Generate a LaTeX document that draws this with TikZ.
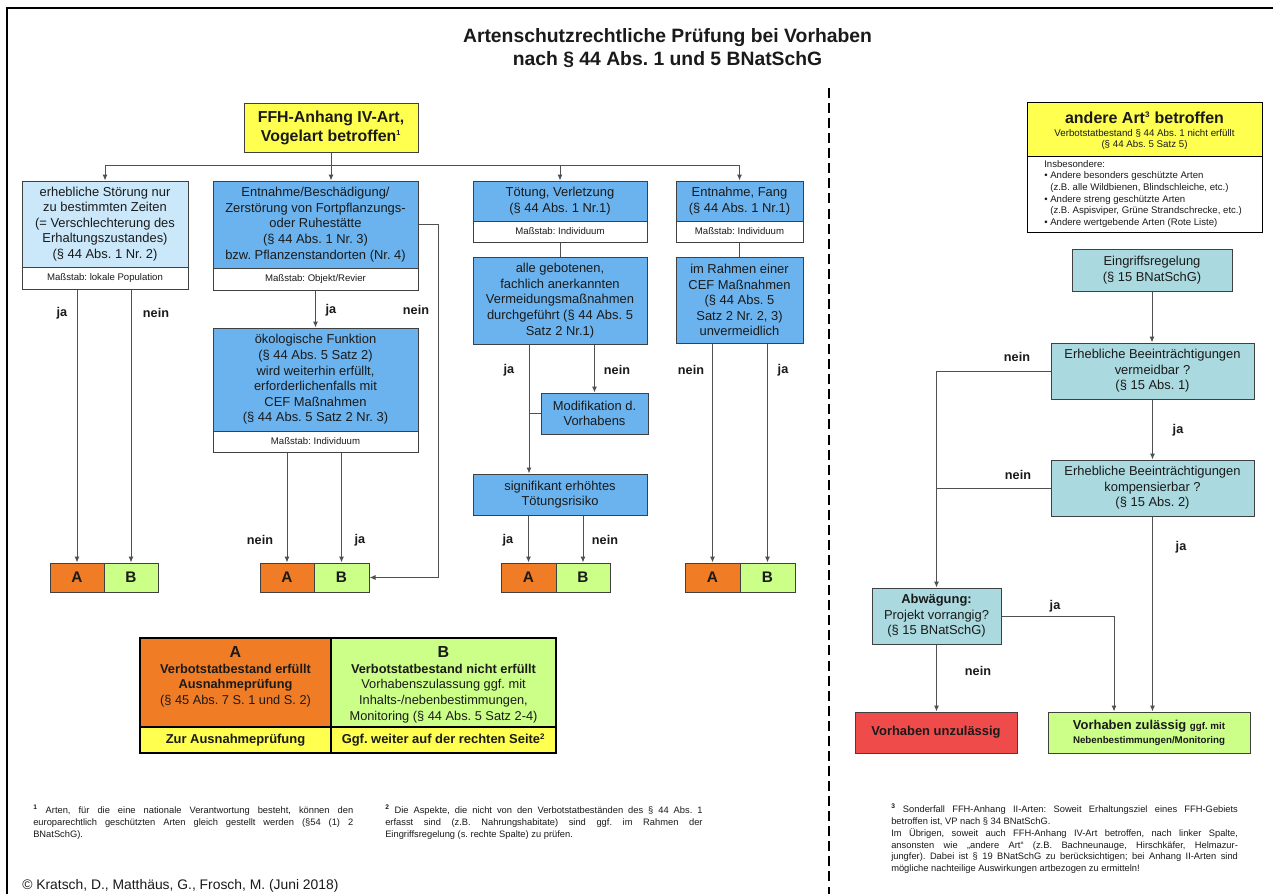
\documentclass[tikz,border=0pt]{standalone}
\usepackage{fontspec}
\setmainfont{Liberation Sans}
\usetikzlibrary{arrows.meta}
\definecolor{cYel}{HTML}{FFFF50}
\definecolor{cLblue}{HTML}{CBE8FB}
\definecolor{cBlue}{HTML}{6BB3EF}
\definecolor{cTeal}{HTML}{AAD9DF}
\definecolor{cOra}{HTML}{F07D26}
\definecolor{cGrn}{HTML}{CCFF88}
\definecolor{cRed}{HTML}{F04B4B}
\definecolor{cEdge}{HTML}{404040}
\definecolor{cLine}{HTML}{505050}
\definecolor{cTxt}{HTML}{1A1A1A}
\newcommand\fs[2]{\fontsize{#1}{#2}\selectfont}
\frenchspacing
\begin{document}
\begin{tikzpicture}[x=0.75pt,y=-0.75pt,
  rect/.style n args={4}{at={({(#1+#3)/2},{(#2+#4)/2})}, anchor=center,
     minimum width={(#3-#1)*0.75pt}, minimum height={(#4-#2)*0.75pt}},
  box/.style={draw=cEdge, line width=0.75pt, inner sep=0pt, align=center, text=cTxt},
  lbbox/.style={box, fill=cLblue, font=\fs{9.7}{11.7}},
  bbox/.style={box, fill=cBlue, font=\fs{9.7}{11.7}},
  tbox/.style={box, fill=cTeal, font=\fs{9.7}{11.7}},
  foot/.style={box, fill=white, font=\fs{7.2}{8.6}},
  ybox/.style={box, fill=cYel},
  abox/.style={box, fill=cOra, font=\bfseries\fs{11.5}{13}},
  gbox/.style={box, fill=cGrn, font=\bfseries\fs{11.5}{13}},
  lgbox/.style={draw=black, line width=1.1pt, inner sep=0pt, align=center, text=cTxt},
  lbl/.style={font=\bfseries\fs{9.5}{11}, inner sep=0pt, text=cTxt},
  txt/.style={inner sep=0pt, text=cTxt},
  conn/.style={draw=cLine, line width=0.75pt},
  arr/.style={conn, -{Latex[length=4.5pt,width=3.8pt]}}
]
\fill[white] (0,0) rectangle (1273,894);
\useasboundingbox (0,0) rectangle (1273,894);
% frame and separator
\draw[line width=1.5pt] (7,894) -- (7,8) -- (1273,8);
\draw[line width=2.2pt, dash pattern=on 7.5pt off 3.8pt] (829,88) -- (829,894);
% title
\node[txt, font=\bfseries\fs{14.5}{17.3}, align=center] (title) at (667.5,48.5)
  {Artenschutzrechtliche Prüfung bei Vorhaben\\nach § 44 Abs. 1 und 5 BNatSchG};
% ---------------- left column ----------------
\node[ybox, font=\bfseries\fs{11.9}{14.3}, rect={244}{103}{418}{152}] (ffh)
  {FFH-Anhang IV-Art,\\Vogelart betroffen\textsuperscript{\fs{5.5}{6}1}};
\node[lbbox, rect={22}{181}{188}{267}] (b1)
  {erhebliche Störung nur\\zu bestimmten Zeiten\\(= Verschlechterung des\\Erhaltungszustandes)\\(§ 44 Abs. 1 Nr. 2)};
\node[foot, rect={22}{267}{188}{289}] (b1f) {Maßstab: lokale Population};
\node[bbox, rect={213}{181}{418}{268}] (b2)
  {Entnahme/Beschädigung/\\Zerstörung von Fortpflanzungs-\\oder Ruhestätte\\(§ 44 Abs. 1 Nr. 3)\\bzw. Pflanzenstandorten (Nr. 4)};
\node[foot, rect={213}{268}{418}{290}] (b2f) {Maßstab: Objekt/Revier};
\node[bbox, rect={473}{181}{647}{221}] (b3) {Tötung, Verletzung\\(§ 44 Abs. 1 Nr.1)};
\node[foot, rect={473}{221}{647}{242}] (b3f) {Maßstab: Individuum};
\node[bbox, rect={676}{181}{803}{221}] (b4) {Entnahme, Fang\\(§ 44 Abs. 1 Nr.1)};
\node[foot, rect={676}{221}{803}{242}] (b4f) {Maßstab: Individuum};
\node[bbox, rect={473}{257}{647}{344}] (b3b)
  {alle gebotenen,\\fachlich anerkannten\\Vermeidungsmaßnahmen\\durchgeführt (§ 44 Abs. 5\\Satz 2 Nr.1)};
\node[bbox, rect={676}{257}{803}{343}] (b4b)
  {im Rahmen einer\\CEF Maßnahmen\\(§ 44 Abs. 5\\Satz 2 Nr. 2, 3)\\unvermeidlich};
\node[bbox, rect={213}{328}{418}{431}] (b2b)
  {ökologische Funktion\\(§ 44 Abs. 5 Satz 2)\\wird weiterhin erfüllt,\\erforderlichenfalls mit\\CEF Maßnahmen\\(§ 44 Abs. 5 Satz 2 Nr. 3)};
\node[foot, rect={213}{431}{418}{452}] (b2bf) {Maßstab: Individuum};
\node[bbox, rect={541}{393}{648}{434}] (mod) {Modifikation d.\\Vorhabens};
\node[bbox, rect={473}{474}{647}{515}] (sig) {signifikant erhöhtes\\Tötungsrisiko};
% A/B pairs
\node[abox, rect={50}{563}{104}{592}] (pa1) {A};
\node[gbox, rect={104}{563}{158}{592}] (pb1) {B};
\node[abox, rect={260}{563}{314}{592}] (pa2) {A};
\node[gbox, rect={314}{563}{369}{592}] (pb2) {B};
\node[abox, rect={501}{563}{556}{592}] (pa3) {A};
\node[gbox, rect={556}{563}{610}{592}] (pb3) {B};
\node[abox, rect={685}{563}{740}{592}] (pa4) {A};
\node[gbox, rect={740}{563}{795}{592}] (pb4) {B};
% connectors left
\coordinate (bus) at (331,165);
\draw[arr] (ffh.south) -- (ffh.south |- b2.north);
\draw[conn] (bus -| b1.north) -- (bus -| b4.north);
\draw[arr] (bus -| b1.north) -- (b1.north);
\draw[arr] (bus -| b3.north) -- (b3.north);
\draw[arr] (bus -| b4.north) -- (b4.north);
\draw[arr] (b1f.south -| pa1.north) -- (pa1.north);
\draw[arr] (b1f.south -| pb1.north) -- (pb1.north);
\draw[arr] (b2f.south) -- (b2b.north);
\draw[arr] (b2.east) -- ++(20,0) |- (pb2.east);
\draw[arr] (b2bf.south -| pa2.north) -- (pa2.north);
\draw[arr] (b2bf.south -| pb2.north) -- (pb2.north);
\draw[conn] (b3f.south) -- (b3b.north);
\draw[conn] (b4f.south) -- (b4b.north);
\coordinate (j3) at (529,344);
\draw[arr] (b3b.south -| j3) -- (sig.north -| j3);
\draw[arr] (b3b.south -| mod.north) -- (mod.north);
\draw[conn] (mod.west) -- (mod.west -| j3);
\draw[arr] (sig.south -| pa3.north) -- (pa3.north);
\draw[arr] (sig.south -| pb3.north) -- (pb3.north);
\draw[arr] (b4b.south -| pa4.north) -- (pa4.north);
\draw[arr] (b4b.south -| pb4.north) -- (pb4.north);
% labels left
\node[lbl] (l1a) at (62,313) {ja};
\node[lbl] (l1b) at (156,313) {nein};
\node[lbl] (l2a) at (331,310) {ja};
\node[lbl] (l2b) at (416,310) {nein};
\node[lbl] (l3a) at (260,540) {nein};
\node[lbl] (l3b) at (360,540) {ja};
\node[lbl] (l4a) at (509,370) {ja};
\node[lbl] (l4b) at (617,370) {nein};
\node[lbl] (l5a) at (508,540) {ja};
\node[lbl] (l5b) at (605,540) {nein};
\node[lbl] (l6a) at (691,370) {nein};
\node[lbl] (l6b) at (783,370) {ja};
% legend
\node[lgbox, fill=cOra, rect={140}{638}{331}{727}] (la) {};
\node[lgbox, fill=cGrn, rect={331}{638}{556}{727}] (lb) {};
\node[lgbox, fill=cYel, font=\bfseries\fs{9.7}{11}, rect={140}{727}{331}{753}] (lya) {Zur Ausnahmeprüfung};
\node[lgbox, fill=cYel, font=\bfseries\fs{9.7}{11}, rect={331}{727}{556}{753}] (lyb) {Ggf. weiter auf der rechten Seite\textsuperscript{\fs{6}{6}2}};
\node[txt, anchor=north, align=center, font=\fs{9.6}{11.8}] (lat) at (235.5,646)
  {{\bfseries\fs{12}{12}A}\\\textbf{Verbotstatbestand erfüllt}\\\textbf{Ausnahmeprüfung}\\(§ 45 Abs. 7 S. 1 und S. 2)};
\node[txt, anchor=north, align=center, font=\fs{9.6}{11.8}] (lbt) at (443.5,646)
  {{\bfseries\fs{12}{12}B}\\\textbf{Verbotstatbestand nicht erfüllt}\\Vorhabenszulassung ggf. mit\\Inhalts-/nebenbestimmungen,\\Monitoring (§ 44 Abs. 5 Satz 2-4)};
% footnotes
\node[txt, anchor=north west, text width=240pt, align=justify, font=\fs{7}{8.8}] (fn1) at (33,805)
  {\textsuperscript{\textbf{1}} Arten, für die eine nationale Verantwortung besteht, können den\linebreak europarechtlich geschützten Arten gleich gestellt werden (§54 (1) 2\linebreak BNatSchG).};
\node[txt, anchor=north west, text width=238pt, align=justify, font=\fs{7}{8.8}] (fn2) at (385,805)
  {\textsuperscript{\textbf{2}} Die Aspekte, die nicht von den Verbotstatbeständen des §~44 Abs.~1\linebreak erfasst sind (z.B. Nahrungshabitate) sind ggf. im Rahmen der\linebreak Eingriffsregelung (s. rechte Spalte) zu prüfen.};
\node[txt, anchor=north west, text width=260pt, align=justify, font=\fs{7}{8.8}] (fn3) at (891,804)
  {\textsuperscript{\textbf{3}} Sonderfall FFH-Anhang II-Arten: Soweit Erhaltungsziel eines FFH-Gebiets\linebreak betroffen ist, VP nach § 34 BNatSchG.\\Im Übrigen, soweit auch FFH-Anhang IV-Art betroffen, nach linker Spalte,\linebreak ansonsten wie „andere Art“ (z.B. Bachneunauge, Hirschkäfer, Helmazur-\linebreak jungfer). Dabei ist § 19 BNatSchG zu berücksichtigen; bei Anhang II-Arten sind\linebreak mögliche nachteilige Auswirkungen artbezogen zu ermitteln!};
\node[txt, anchor=west, font=\fs{10.4}{12}] (copy) at (22,886)
  {© Kratsch, D., Matthäus, G., Frosch, M. (Juni 2018)};
% ---------------- right column ----------------
\node[ybox, draw=black, rect={1027}{102}{1262}{156}] (aa) {};
\node[txt, font=\bfseries\fs{12}{13}] (aat) at (1144.5,118) {andere Art\textsuperscript{\fs{6}{6}3} betroffen};
\node[txt, align=center, font=\fs{7.3}{8.4}] (aas) at (1144.5,139.5)
  {Verbotstatbestand § 44 Abs. 1 nicht erfüllt\\(§ 44 Abs. 5 Satz 5)};
\node[box, draw=black, fill=white, rect={1027}{156}{1262}{232}] (al) {};
\node[txt, anchor=north west, align=left, font=\fs{7.2}{8.7}] (alt) at (1044,160)
  {Insbesondere:\\• Andere besonders geschützte Arten\\\hphantom{• }(z.B. alle Wildbienen, Blindschleiche, etc.)\\• Andere streng geschützte Arten\\\hphantom{• }(z.B. Aspisviper, Grüne Strandschrecke, etc.)\\• Andere wertgebende Arten (Rote Liste)};
\node[tbox, rect={1072}{249}{1232}{291}] (eing) {Eingriffsregelung\\(§ 15 BNatSchG)};
\node[tbox, rect={1051}{343}{1254}{399}] (e1) {Erhebliche Beeinträchtigungen\\vermeidbar ?\\(§ 15 Abs. 1)};
\node[tbox, rect={1051}{460}{1254}{516}] (e2) {Erhebliche Beeinträchtigungen\\kompensierbar ?\\(§ 15 Abs. 2)};
\node[tbox, rect={872}{588}{1001}{644}] (abw) {\textbf{Abwägung:}\\Projekt vorrangig?\\(§ 15 BNatSchG)};
\node[box, fill=cRed, font=\bfseries\fs{9.7}{11}, rect={855}{712}{1017}{753}] (unz) {Vorhaben unzulässig};
\node[box, fill=cGrn, font=\bfseries\fs{9.7}{10.5}, rect={1048}{712}{1250}{753}] (zul)
  {Vorhaben zulässig {\fs{7.3}{8}ggf. mit}\\{\fs{7.3}{8}Nebenbestimmungen/Monitoring}};
\draw[arr] (eing.south) -- (eing.south |- e1.north);
\draw[arr] (e1.south) -- (e2.north);
\draw[arr] (e2.south) -- (e2.south |- zul.north);
\draw[arr] (e1.west) -| (abw.north);
\draw[conn] (e2.west) -- (e2.west -| abw.north);
\coordinate (jx) at (1114,616);
\draw[arr] (abw.east) -| (jx |- zul.north);
\draw[arr] (abw.south) -- (abw.south |- unz.north);
\node[lbl] (r1) at (1017,357) {nein};
\node[lbl] (r2) at (1178,430) {ja};
\node[lbl] (r3) at (1018,475) {nein};
\node[lbl] (r4) at (1181,547) {ja};
\node[lbl] (r5) at (1055,606) {ja};
\node[lbl] (r6) at (978,671) {nein};
\end{tikzpicture}
\end{document}
